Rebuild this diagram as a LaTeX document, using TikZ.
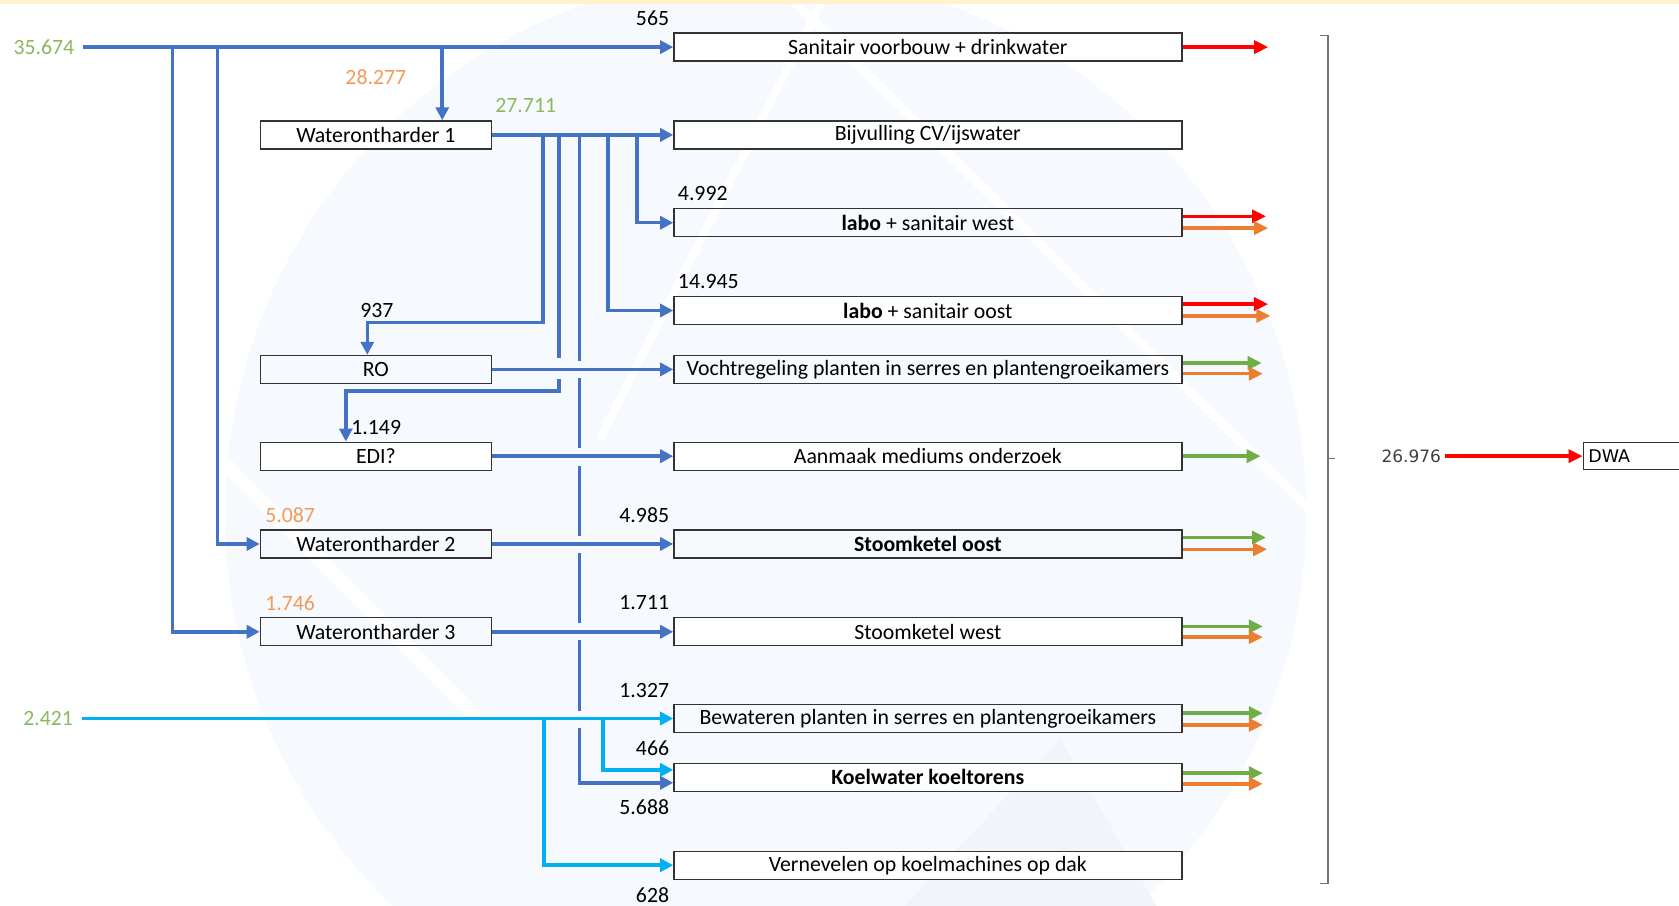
\documentclass[tikz,border=0pt]{standalone}
\usepackage{fontspec}
\setmainfont{Carlito}
\newfontfamily\verd{DejaVu Sans}
\usetikzlibrary{arrows.meta,calc}
\definecolor{bblue}{HTML}{4472C4}
\definecolor{cblue}{HTML}{00B0F0}
\definecolor{rred}{HTML}{FF0000}
\definecolor{oor}{HTML}{ED7D31}
\definecolor{ggr}{HTML}{70AD47}
\definecolor{lgreen}{HTML}{8CB860}
\definecolor{lorange}{HTML}{F39A5B}
\definecolor{wm}{RGB}{246,249,253}
\definecolor{wmd}{RGB}{241,245,250}
\definecolor{band}{HTML}{FFF2CC}
\begin{document}
\begin{tikzpicture}[x=1.0708pt,y=-1.0708pt,
  font=\fontsize{21.8}{24}\selectfont,
  rbox/.style={draw=black!80,line width=1.3pt,minimum width=508pt,minimum height=28pt,inner sep=0pt},
  wbox/.style={rbox,fill=white},
  lbox/.style={rbox,minimum width=231pt},
  lwbox/.style={lbox,fill=white},
  lbl/.style={inner sep=1pt},
  bl/.style={draw=bblue,line width=3.5pt},
  blA/.style={bl,-{Triangle[length=13pt,width=13pt]}},
  cy/.style={draw=cblue,line width=3.5pt},
  cyA/.style={cy,-{Triangle[length=13pt,width=13pt]}},
  outA/.style={line width=3.4pt,-{Triangle[length=14pt,width=13pt]}},
  brk/.style={draw=black!55,line width=1.5pt}
]
\useasboundingbox (0,0) rectangle (1568,846);
\clip (0,0) rectangle (1568,846);
\fill[white] (0,0) rectangle (1568,846);
% watermark
\fill[wm] (715,480) circle (505);
\fill[wmd] (990,690) -- (845,846) -- (1080,846) -- cycle;
\draw[white,line width=14pt] (205,428) -- (445,670);
\draw[white,line width=9pt] (740,0) -- (1225,478);
\draw[white,line width=8pt] (768,0) -- (560,410);
\fill[band] (0,0) rectangle (1568,3.5);

% right column boxes
\node[wbox] (san) at (866.5,44) {Sanitair voorbouw + drinkwater};
\node[wbox] (bij) at (866.5,126) {Bijvulling CV/ijswater};
\node[rbox] (lw) at (866.5,208) {\textbf{labo} + sanitair west};
\node[wbox] (lo) at (866.5,290) {\textbf{labo} + sanitair oost};
\node[rbox] (vo) at (866.5,345) {Vochtregeling planten in serres en plantengroeikamers};
\node[wbox] (aa) at (866.5,426) {Aanmaak mediums onderzoek};
\node[rbox] (so) at (866.5,508) {\textbf{Stoomketel oost}};
\node[wbox] (sw) at (866.5,590) {Stoomketel west};
\node[rbox] (bw) at (866.5,671) {Bewateren planten in serres en plantengroeikamers};
\node[wbox] (kw) at (866.5,726) {\textbf{Koelwater koeltorens}};
\node[wbox] (vn) at (866.5,808) {Vernevelen op koelmachines op dak};

% left column boxes
\node[lwbox] (wo1) at (351,126) {Waterontharder 1};
\node[lbox] (ro) at (351,345) {RO};
\node[lwbox] (edi) at (351,426) {EDI?};
\node[lbox] (wo2) at (351,508) {Waterontharder 2};
\node[lbox] (wo3) at (351,590) {Waterontharder 3};

% labels
\node[lbl,text=lgreen] (n35674) at (41,44) {35.674};
\node[lbl,text=lorange] (n28277) at (351,72) {28.277};
\node[lbl,text=lgreen] (n27711) at (491,99) {27.711};
\node[lbl,anchor=east] (n565) at (626,17) {565};
\node[lbl,anchor=west] (n4992) at (632,181) {4.992};
\node[lbl,anchor=west] (n14945) at (632,263) {14.945};
\node[lbl] (n937) at (352,290) {937};
\node[lbl,anchor=west] (n1149) at (327,399) {1.149};
\node[lbl,text=lorange] (n5087) at (271,481) {5.087};
\node[lbl,text=lorange] (n1746) at (271,563) {1.746};
\node[lbl,anchor=east] (n4985) at (626,481) {4.985};
\node[lbl,anchor=east] (n1711) at (626,563) {1.711};
\node[lbl,anchor=east] (n1327) at (626,645) {1.327};
\node[lbl,anchor=east] (n466) at (626,699) {466};
\node[lbl,anchor=east] (n5688) at (626,754) {5.688};
\node[lbl,anchor=east] (n628) at (626,836) {628};
\node[lbl,text=lgreen] (n2421) at (45,671) {2.421};

% blue network
\coordinate (j1) at (161,44);
\coordinate (j2) at (203,44);
\coordinate (j3) at (413,44);
\draw[blA] (j1) |- (wo3.west);
\draw[blA] (j2) |- (wo2.west);
\draw[blA] (j3) -- (j3 |- wo1.north);
\draw[blA] ($(n35674.east)+(7,0)$) -- (san.west);

\coordinate (k1) at (507,126);
\coordinate (k2) at (522,126);
\coordinate (k3) at (541,126);
\coordinate (k4) at (568,126);
\coordinate (k5) at (595,126);
\draw[blA] (wo1.east) -- (bij.west);
\draw[blA] (k5) |- (lw.west);
\draw[blA] (k4) |- (lo.west);
\coordinate (r1) at (343,301);
\draw[blA] (k1) |- (r1) -- (r1 |- ro.north);
\draw[bl] (k2) -- (522,334);
\coordinate (e1) at (323,365);
\draw[blA] (522,354) |- (e1) -- (e1 |- edi.north);
\draw[bl] (k3) -- (541,337);
\draw[bl] (541,353) -- (541,418);
\draw[bl] (541,435) -- (541,501);
\draw[bl] (541,516) -- (541,582);
\draw[bl] (541,598) -- (541,664);
\draw[blA] (541,680) |- ($(kw.west)+(0,5)$);
\draw[blA] (ro.east) -- (vo.west);
\draw[blA] (edi.east) -- (aa.west);
\draw[blA] (wo2.east) -- (so.west);
\draw[blA] (wo3.east) -- (sw.west);

% cyan network
\coordinate (q1) at (508,671);
\coordinate (q2) at (563,671);
\draw[cyA] (q1) |- (vn.west);
\draw[cyA] (q2) |- ($(kw.west)+(0,-7)$);
\draw[cyA] ($(n2421.east)+(7,0)$) -- (bw.west);

% outputs
\draw[outA,rred] (san.east) -- ++(80,0);
\draw[outA,rred] ($(lw.east)+(0,-6)$) -- ++(78,0);
\draw[outA,oor] ($(lw.east)+(0,5)$) -- ++(80,0);
\draw[outA,rred] ($(lo.east)+(0,-6)$) -- ++(80,0);
\draw[outA,oor] ($(lo.east)+(0,5)$) -- ++(82,0);
\draw[outA,ggr] ($(vo.east)+(0,-6)$) -- ++(74,0);
\draw[outA,oor] ($(vo.east)+(0,4)$) -- ++(75,0);
\draw[outA,ggr] (aa.east) -- ++(73,0);
\draw[outA,ggr] ($(so.east)+(0,-6)$) -- ++(78,0);
\draw[outA,oor] ($(so.east)+(0,5)$) -- ++(79,0);
\draw[outA,ggr] ($(sw.east)+(0,-5)$) -- ++(75,0);
\draw[outA,oor] ($(sw.east)+(0,5)$) -- ++(75,0);
\draw[outA,ggr] ($(bw.east)+(0,-5)$) -- ++(75,0);
\draw[outA,oor] ($(bw.east)+(0,6)$) -- ++(75,0);
\draw[outA,ggr] ($(kw.east)+(0,-4)$) -- ++(75,0);
\draw[outA,oor] ($(kw.east)+(0,6)$) -- ++(75,0);

% bracket
\draw[brk] (1233,33) -- (1240,33) -- (1240,825) -- (1233,825);
\draw[brk] (1240,428) -- (1247,428);

% DWA
\node[lbl,font=\verd\fontsize{17}{20}\selectfont,text=black!75] (n26976) at (1318,426) {26.976};
\node[draw=black!80,line width=1.3pt,anchor=west,minimum height=27pt,text width=130pt,inner xsep=5pt,inner ysep=0pt,align=left,font=\verd\fontsize{17.5}{20}\selectfont] (dwa) at (1478,426) {DWA};
\draw[outA,rred] ($(n26976.east)+(3,0)$) -- (dwa.west);
\end{tikzpicture}
\end{document}
